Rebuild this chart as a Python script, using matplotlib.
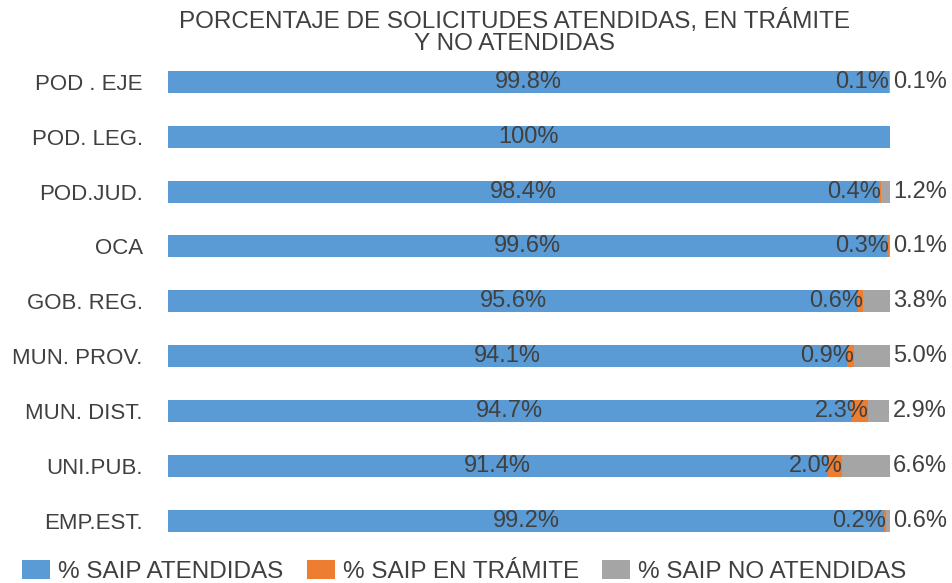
import numpy as np
import matplotlib
matplotlib.use('Agg')
from matplotlib import pyplot as plt

# datos
entidades = ['POD . EJE', 'POD. LEG.', 'POD.JUD.', 'OCA', 'GOB. REG.',
             'MUN. PROV.', 'MUN. DIST.', 'UNI.PUB.', 'EMP.EST.']
atendidas = [99.8, 100, 98.4, 99.6, 95.6, 94.1, 94.7, 91.4, 99.2]
en_tramite = [0.1, 0, 0.4, 0.3, 0.6, 0.9, 2.3, 2.0, 0.2]
no_atendidas = [0.1, 0, 1.2, 0.1, 3.8, 5.0, 2.9, 6.6, 0.6]
etiq_atendidas = ['99.8%', '100%', '98.4%', '99.6%', '95.6%', '94.1%', '94.7%', '91.4%', '99.2%']
etiq_tramite = ['0.1%', '', '0.4%', '0.3%', '0.6%', '0.9%', '2.3%', '2.0%', '0.2%']
etiq_no = ['0.1%', '', '1.2%', '0.1%', '3.8%', '5.0%', '2.9%', '6.6%', '0.6%']

plt.rcParams['font.family'] = ['Liberation Sans', 'DejaVu Sans']
txt = '#404040'

fig = plt.figure(figsize=(9.53, 5.83), dpi=100)
ax = fig.add_axes([0.176, 0.059, 0.758, 0.848])

y = np.arange(len(entidades))
a = np.array(atendidas)
t = np.array(en_tramite)
n = np.array(no_atendidas)

h = 0.4
ax.barh(y, a, height=h, color='#5B9BD5', label='% SAIP ATENDIDAS')
ax.barh(y, t, left=a, height=h, color='#ED7D31', label='% SAIP EN TRÁMITE')
ax.barh(y, n, left=a + t, height=h, color='#A5A5A5', label='% SAIP NO ATENDIDAS')

# etiquetas de valores
for i in range(len(entidades)):
    ax.text(a[i] / 2, y[i], etiq_atendidas[i], ha='center', va='center',
            fontsize=17, color=txt)
    if etiq_tramite[i]:
        ax.text(a[i] + t[i], y[i], etiq_tramite[i], ha='right', va='center',
                fontsize=17, color=txt)
    if etiq_no[i]:
        ax.text(100.4, y[i], etiq_no[i], ha='left', va='center',
                fontsize=17, color=txt)

ax.set_xlim(0, 100)
ax.set_ylim(len(entidades) - 0.5, -0.5)
ax.set_yticks(y)
ax.set_yticklabels(entidades, fontsize=16, color=txt)
ax.tick_params(axis='y', length=0, pad=18)
ax.set_xticks([])
for s in ax.spines.values():
    s.set_visible(False)

fig.text(0.54, 0.945, 'PORCENTAJE DE SOLICITUDES ATENDIDAS, EN TRÁMITE\nY NO ATENDIDAS',
         ha='center', va='center', fontsize=17.5, color=txt, linespacing=0.95)

fig.legend(loc='center', bbox_to_anchor=(0.487, 0.02), ncol=3, frameon=False,
           fontsize=17.5, handlelength=1.15, handleheight=0.8, columnspacing=0.95,
           handletextpad=0.33, labelcolor=txt, borderpad=0)

fig.savefig('out.png', dpi=100)
